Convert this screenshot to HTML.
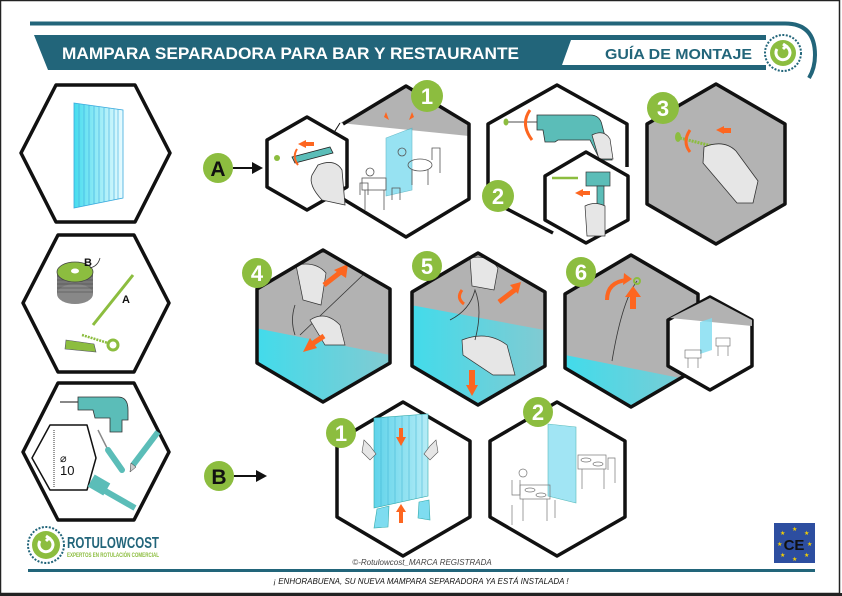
<!DOCTYPE html>
<html><head><meta charset="utf-8"><style>
html,body{margin:0;padding:0;background:#fff}
svg{display:block}
text{font-family:"Liberation Sans",sans-serif}
</style></head><body>
<svg width="842" height="596" viewBox="0 0 842 596" xmlns="http://www.w3.org/2000/svg">
<defs>
<linearGradient id="cy" x1="0" y1="0" x2="1" y2="0"><stop offset="0" stop-color="#3fdcec"/><stop offset="1" stop-color="#86c9d0"/></linearGradient>
<linearGradient id="pan" x1="0" y1="0" x2="1" y2="0"><stop offset="0" stop-color="#46dcee"/><stop offset="1" stop-color="#e9fbff"/></linearGradient>
<linearGradient id="pan2" x1="0" y1="0" x2="1" y2="0"><stop offset="0" stop-color="#5fd3ea"/><stop offset="1" stop-color="#b5ecf6"/></linearGradient>
<clipPath id="c4"><polygon points="323,250 390,289 390,363 323,402 257,363 257,289"/></clipPath>
<clipPath id="c5"><polygon points="478,253 545,292 545,366 478,405 412,366 412,292"/></clipPath>
<clipPath id="c6"><polygon points="631,255 698,294 698,368 631,407 565,368 565,294"/></clipPath>
<clipPath id="c1"><polygon points="406,86 469,124 469,199 406,237 343,199 343,124"/></clipPath>
</defs>
<rect x="0.5" y="0.5" width="839" height="593" fill="#fff" stroke="#222" stroke-width="1.5"/>
<rect x="0" y="593" width="842" height="3" fill="#222"/>

<!-- header -->
<path d="M30,23.5 H785 Q815,23.5 815,55 Q815,68 809,78" fill="none" stroke="#22657a" stroke-width="4"/>
<polygon points="34,35 766,35 766,70 48,70" fill="#22657a"/>
<polygon points="571,40 766,40 766,65 562,65" fill="#fff"/>
<text x="62" y="59" font-size="17" font-weight="bold" fill="#fff" textLength="457" lengthAdjust="spacingAndGlyphs">MAMPARA SEPARADORA PARA BAR Y RESTAURANTE</text>
<text x="605" y="59" font-size="15" font-weight="bold" fill="#22657a" textLength="147" lengthAdjust="spacingAndGlyphs">GUÍA DE MONTAJE</text>
<circle cx="783" cy="53" r="18" fill="#fff" stroke="#22657a" stroke-width="2" stroke-dasharray="2 1.5"/>
<circle cx="783" cy="53" r="13" fill="#8cbd3f"/>
<path d="M777,49 a7,7 0 1 0 8,-3 M783,44 l3,2 -3,3" fill="none" stroke="#fff" stroke-width="3"/>

<!-- left column -->
<g fill="#fff" stroke="#111" stroke-width="3.5" stroke-linejoin="round">
<polygon points="21,153 56,85 135,85 170,153 135,222 56,222"/>
<polygon points="23,303 58,235 134,235 169,303 134,372 58,372"/>
<polygon points="23,452 58,383 134,383 169,452 134,520 58,520"/>
</g>
<polygon points="74,103 123,110 123,198 74,208" fill="url(#pan)" stroke="#3aaadd" stroke-width="0.8"/>
<g stroke="#3aaadd" stroke-width="0.6"><line x1="79" y1="104" x2="79" y2="207"/><line x1="84" y1="105" x2="84" y2="206"/><line x1="89" y1="105" x2="89" y2="205"/><line x1="94" y1="106" x2="94" y2="204"/><line x1="99" y1="107" x2="99" y2="203"/><line x1="104" y1="108" x2="104" y2="202"/><line x1="109" y1="108" x2="109" y2="201"/><line x1="114" y1="109" x2="114" y2="200"/><line x1="118" y1="109" x2="118" y2="199"/></g>
<!-- spool -->
<rect x="57" y="272" width="36" height="22" fill="#777"/>
<ellipse cx="75" cy="294" rx="18" ry="10" fill="#888"/>
<g stroke="#444" stroke-width="0.6" fill="none"><line x1="57" y1="276" x2="93" y2="276"/><line x1="57" y1="280" x2="93" y2="280"/><line x1="57" y1="284" x2="93" y2="284"/><line x1="57" y1="288" x2="93" y2="288"/><line x1="57" y1="292" x2="93" y2="292"/></g>
<ellipse cx="75" cy="272" rx="18" ry="10" fill="#8cbd3f" stroke="#444" stroke-width="0.8"/>
<ellipse cx="75" cy="271" rx="4" ry="2.5" fill="#fff"/>
<path d="M90,268 q8,-2 10,-10" fill="none" stroke="#333" stroke-width="0.8"/>
<text x="84" y="266" font-size="11" font-weight="bold" fill="#111">B</text>
<text x="122" y="303" font-size="11" font-weight="bold" fill="#111">A</text>
<line x1="93" y1="325" x2="133" y2="275" stroke="#8cbd3f" stroke-width="3"/>
<polygon points="66,340 94,344 96,352 65,349" fill="#8cbd3f" stroke="#556" stroke-width="0.6"/>
<line x1="82" y1="335" x2="108" y2="343" stroke="#8cbd3f" stroke-width="2.5" stroke-dasharray="2 1"/>
<circle cx="113" cy="345" r="5" fill="none" stroke="#8cbd3f" stroke-width="3"/>
<!-- tools -->
<line x1="60" y1="402" x2="78" y2="402" stroke="#888" stroke-width="2"/>
<path d="M78,397 H118 Q128,397 128,410 V420 H122 L122,432 H110 L110,418 H95 L93,410 H78 Z" fill="#5bbdb8" stroke="#333" stroke-width="0.8"/>
<polygon points="50,425 87,425 96,458 87,490 50,490 32,458" fill="#fff" stroke="#111" stroke-width="1.5" stroke-linejoin="round"/>
<line x1="54" y1="430" x2="54" y2="487" stroke="#999" stroke-width="2" stroke-dasharray="1 1"/>
<text x="60" y="462" font-size="11" fill="#111">⌀</text>
<text x="60" y="475" font-size="13" fill="#111">10</text>
<line x1="98" y1="430" x2="108" y2="450" stroke="#888" stroke-width="1.5"/>
<line x1="108" y1="450" x2="122" y2="470" stroke="#5bbdb8" stroke-width="6" stroke-linecap="round"/>
<line x1="158" y1="432" x2="133" y2="465" stroke="#5bbdb8" stroke-width="6"/>
<polygon points="131,463 136,467 130,472" fill="#ccc" stroke="#333" stroke-width="0.5"/>
<rect x="90" y="478" width="18" height="14" fill="#5bbdb8" transform="rotate(30 99 485)"/>
<line x1="100" y1="488" x2="135" y2="508" stroke="#5bbdb8" stroke-width="6"/>

<!-- A row -->
<circle cx="218" cy="168" r="15" fill="#8cbd3f"/>
<text x="218" y="176" font-size="21" font-weight="bold" fill="#111" text-anchor="middle">A</text>
<line x1="233" y1="168" x2="256" y2="168" stroke="#111" stroke-width="2"/>
<polygon points="263,168 252,162 252,174" fill="#111"/>
<!-- hex 1 big -->
<polygon points="406,86 469,124 469,135 343,123 343,124" fill="#b3b3b3" clip-path="url(#c1)"/>
<polygon points="340,123 406,86 469,124 469,136" fill="#b3b3b3"/>
<polyline points="343,124 406,86 469,124 469,199 406,237 343,199" fill="none" stroke="#111" stroke-width="3.5" stroke-linejoin="round"/>
<line x1="340" y1="123" x2="323" y2="150" stroke="#111" stroke-width="1"/>
<polygon points="386,138 412,128 412,190 386,196" fill="#7edcf0" opacity="0.8" stroke="#4ab" stroke-width="0.6"/>
<g fill="none" stroke="#555" stroke-width="0.8">
<rect x="362" y="178" width="24" height="12"/><line x1="365" y1="190" x2="365" y2="210"/><line x1="384" y1="190" x2="384" y2="210"/>
<path d="M360,195 v-12 h8 v12 M392,200 v-12 h8 v12"/>
<ellipse cx="420" cy="165" rx="12" ry="6"/><path d="M412,170 v15 M428,170 v15 M432,160 v-12 h8 v25"/>
<circle cx="402" cy="152" r="4"/><circle cx="370" cy="172" r="4"/>
</g>
<g fill="#fd6620"><polygon points="389,120 384,117 386,112"/><polygon points="409,120 414,117 412,112"/></g>
<circle cx="427" cy="96" r="16" fill="#8cbd3f"/><text x="427" y="104" font-size="22" font-weight="bold" fill="#fff" text-anchor="middle">1</text>
<!-- small hex A -->
<polygon points="307,117 347,140 347,187 307,210 267,187 267,140" fill="#fff" stroke="#111" stroke-width="3.5" stroke-linejoin="round"/>
<path d="M318,165 Q335,158 342,170 L345,205 L322,200 Q308,185 312,175 Z" fill="#e6e6e6" stroke="#333" stroke-width="0.8"/>
<polygon points="292,157 330,147 333,153 295,163" fill="#5bbdb8" stroke="#222" stroke-width="0.8"/>
<circle cx="277" cy="158" r="3" fill="#8cbd3f"/>
<path d="M297,149 q-5,8 1,16" fill="none" stroke="#fd6620" stroke-width="2"/>
<polygon points="298,144 306,140 306,148" fill="#fd6620"/><rect x="306" y="142" width="8" height="4" fill="#fd6620"/>

<!-- hex 2 -->
<polyline points="553,233 488,199 488,124 557,85 627,124 627,167" fill="none" stroke="#111" stroke-width="3.5" stroke-linejoin="round"/>
<line x1="505" y1="122" x2="540" y2="122" stroke="#888" stroke-width="1.5"/>
<ellipse cx="506" cy="122" rx="2.5" ry="3.5" fill="#8cbd3f"/>
<path d="M537,115 H590 Q600,115 602,125 L608,148 L612,160 L600,160 L590,140 L558,140 L555,142 L545,142 L543,130 L537,130 Z" fill="#5bbdb8" stroke="#333" stroke-width="0.8"/>
<path d="M592,135 q12,-6 18,4 l3,20 -14,0 z" fill="#e6e6e6" stroke="#333" stroke-width="0.7"/>
<path d="M530,110 q-10,14 2,30" fill="none" stroke="#fd6620" stroke-width="3"/>
<polygon points="586,152 628,176 628,220 586,243 545,220 545,176" fill="#fff" stroke="#111" stroke-width="3.5" stroke-linejoin="round"/>
<line x1="552" y1="178" x2="578" y2="178" stroke="#8cbd3f" stroke-width="2.5"/>
<rect x="586" y="172" width="24" height="14" fill="#5bbdb8" stroke="#333" stroke-width="0.7"/>
<rect x="597" y="186" width="7" height="40" fill="#5bbdb8" stroke="#333" stroke-width="0.7"/>
<path d="M585,206 q10,-5 20,0 l0,30 -18,0 z" fill="#e6e6e6" stroke="#333" stroke-width="0.7"/>
<polygon points="575,193 583,189 583,197" fill="#fd6620"/><rect x="583" y="191" width="7" height="4" fill="#fd6620"/>
<circle cx="498" cy="196" r="16" fill="#8cbd3f"/><text x="498" y="204" font-size="22" font-weight="bold" fill="#fff" text-anchor="middle">2</text>

<!-- hex 3 -->
<polygon points="716,84 785,124 785,204 716,244 647,204 647,124" fill="#b3b3b3" stroke="#111" stroke-width="3.5" stroke-linejoin="round"/>
<line x1="680" y1="138" x2="712" y2="146" stroke="#8cbd3f" stroke-width="3" stroke-dasharray="2 1"/>
<ellipse cx="678" cy="137" rx="3" ry="5" fill="#8cbd3f"/>
<path d="M704,147 q20,-8 32,4 l22,30 -5,22 -16,0 -34,-40 z" fill="#e6e6e6" stroke="#333" stroke-width="0.8"/>
<path d="M690,130 q-8,12 0,22" fill="none" stroke="#fd6620" stroke-width="3"/>
<polygon points="716,130 724,126 724,134" fill="#fd6620"/><rect x="724" y="128" width="7" height="5" fill="#fd6620"/>
<circle cx="663" cy="108" r="16" fill="#8cbd3f"/><text x="663" y="116" font-size="22" font-weight="bold" fill="#fff" text-anchor="middle">3</text>

<!-- row 2 -->
<g clip-path="url(#c4)"><rect x="250" y="245" width="150" height="170" fill="#b2b2b2"/><polygon points="250,327 400,357 400,410 250,410" fill="url(#cy)"/></g>
<line x1="300" y1="335" x2="365" y2="273" stroke="#333" stroke-width="0.8"/>
<path d="M296,265 q20,-4 30,8 l-5,32 -18,-5 z" fill="#e6e6e6" stroke="#333" stroke-width="0.7"/>
<path d="M310,320 q15,-10 30,5 l5,20 -20,0 z" fill="#e6e6e6" stroke="#333" stroke-width="0.7"/>
<path d="M295,305 q-5,15 0,30" fill="none" stroke="#333" stroke-width="0.8"/>
<polygon points="334,270 348,264 346,278" fill="#fd6620"/><line x1="324" y1="285" x2="342" y2="271" stroke="#fd6620" stroke-width="5"/>
<polygon points="303,352 317,348 310,338" fill="#fd6620"/><line x1="309" y1="346" x2="324" y2="336" stroke="#fd6620" stroke-width="5"/>
<polygon points="323,250 390,289 390,363 323,402 257,363 257,289" fill="none" stroke="#111" stroke-width="3.5" stroke-linejoin="round"/>
<circle cx="257" cy="273" r="15" fill="#8cbd3f"/><text x="257" y="281" font-size="22" font-weight="bold" fill="#fff" text-anchor="middle">4</text>

<g clip-path="url(#c5)"><rect x="405" y="248" width="150" height="170" fill="#b2b2b2"/><polygon points="405,304 555,332 555,410 405,410" fill="url(#cy)"/></g>
<path d="M470,258 q18,-4 28,10 l-4,22 -22,-4 z" fill="#e6e6e6" stroke="#333" stroke-width="0.7"/>
<path d="M462,340 q25,-10 45,5 l8,30 -22,0 -30,-20 z" fill="#e6e6e6" stroke="#333" stroke-width="0.7"/>
<path d="M450,320 q20,-10 25,-30 q8,20 0,50" fill="none" stroke="#333" stroke-width="0.8"/>
<polygon points="510,285 521,282 518,294" fill="#fd6620"/><line x1="499" y1="302" x2="516" y2="289" stroke="#fd6620" stroke-width="5"/>
<polygon points="466,385 478,385 472,396" fill="#fd6620"/><rect x="469" y="370" width="6" height="16" fill="#fd6620"/>
<path d="M462,290 q-6,8 2,14" fill="none" stroke="#fd6620" stroke-width="3"/>
<polygon points="478,253 545,292 545,366 478,405 412,366 412,292" fill="none" stroke="#111" stroke-width="3.5" stroke-linejoin="round"/>
<circle cx="427" cy="266" r="15" fill="#8cbd3f"/><text x="427" y="274" font-size="22" font-weight="bold" fill="#fff" text-anchor="middle">5</text>

<g clip-path="url(#c6)"><rect x="560" y="250" width="150" height="170" fill="#b2b2b2"/><polygon points="560,354 710,384 710,415 560,415" fill="url(#cy)"/></g>
<path d="M637,281 q-15,20 -25,80" fill="none" stroke="#333" stroke-width="0.8"/>
<circle cx="637" cy="281" r="3" fill="none" stroke="#8cbd3f" stroke-width="2"/>
<path d="M607,300 q0,-18 20,-20" fill="none" stroke="#fd6620" stroke-width="4"/>
<polygon points="624,273 632,279 623,285" fill="#fd6620"/>
<polygon points="625,297 633,286 641,297" fill="#fd6620"/><rect x="630" y="296" width="6" height="13" fill="#fd6620"/>
<polygon points="631,255 698,294 698,368 631,407 565,368 565,294" fill="none" stroke="#111" stroke-width="3.5" stroke-linejoin="round"/>
<circle cx="581" cy="272" r="15" fill="#8cbd3f"/><text x="581" y="280" font-size="22" font-weight="bold" fill="#fff" text-anchor="middle">6</text>
<polygon points="710,297 752,320 752,366 710,390 668,366 668,320" fill="#fff" stroke="#111" stroke-width="3.5" stroke-linejoin="round"/>
<polygon points="670,318 710,298 752,320 752,326" fill="#b2b2b2"/>
<polygon points="700,322 712,318 712,350 700,354" fill="#7edcf0" opacity="0.8"/>
<g fill="none" stroke="#666" stroke-width="0.6"><rect x="685" y="350" width="16" height="8"/><rect x="716" y="338" width="14" height="8"/><path d="M688,358 v10 M698,358 v10 M718,346 v10 M728,346 v10"/></g>

<!-- B row -->
<circle cx="219" cy="476" r="15" fill="#8cbd3f"/>
<text x="219" y="484" font-size="21" font-weight="bold" fill="#111" text-anchor="middle">B</text>
<line x1="234" y1="476" x2="258" y2="476" stroke="#111" stroke-width="2"/>
<polygon points="267,476 256,470 256,482" fill="#111"/>
<polygon points="403,402 470,441 470,517 403,556 337,517 337,441" fill="#fff" stroke="#111" stroke-width="3.5" stroke-linejoin="round"/>
<polygon points="374,418 428,414 428,496 374,508" fill="url(#pan2)" stroke="#3aa" stroke-width="0.6"/>
<g stroke="#3ab0d0" stroke-width="0.5"><line x1="381" y1="418" x2="381" y2="507"/><line x1="388" y1="417" x2="388" y2="505"/><line x1="395" y1="417" x2="395" y2="504"/><line x1="402" y1="416" x2="402" y2="502"/><line x1="409" y1="416" x2="409" y2="500"/><line x1="416" y1="415" x2="416" y2="499"/><line x1="422" y1="415" x2="422" y2="498"/></g>
<polygon points="377,509 389,506 388,527 374,528" fill="#7edcf0" stroke="#3aa" stroke-width="0.6"/>
<polygon points="419,502 429,500 430,520 418,518" fill="#7edcf0" stroke="#3aa" stroke-width="0.6"/>
<path d="M364,440 l6,6 6,8 -6,6 -8,-8 z" fill="#e6e6e6" stroke="#555" stroke-width="0.6"/>
<path d="M436,440 l-6,6 -6,8 6,6 8,-8 z" fill="#e6e6e6" stroke="#555" stroke-width="0.6"/>
<polygon points="396,437 406,437 401,446" fill="#fd6620"/><rect x="399" y="428" width="4" height="10" fill="#fd6620"/>
<polygon points="396,512 406,512 401,504" fill="#fd6620"/><rect x="399" y="512" width="4" height="11" fill="#fd6620"/>
<circle cx="341" cy="433" r="15" fill="#8cbd3f"/><text x="341" y="441" font-size="22" font-weight="bold" fill="#fff" text-anchor="middle">1</text>

<polygon points="557,402 625,441 625,517 557,556 490,517 490,441" fill="#fff" stroke="#111" stroke-width="3.5" stroke-linejoin="round"/>
<polygon points="548,424 576,427 576,503 548,496" fill="#8adff2" opacity="0.8" stroke="#3aa" stroke-width="0.6"/>
<g fill="none" stroke="#777" stroke-width="0.7">
<rect x="520" y="485" width="30" height="14"/><path d="M523,499 v22 M547,499 v22 M512,480 v15 h8 v-15 M512,505 v20 M555,500 v18"/>
<ellipse cx="530" cy="490" rx="5" ry="2"/><ellipse cx="541" cy="495" rx="5" ry="2"/>
<rect x="578" y="455" width="28" height="14"/><ellipse cx="586" cy="460" rx="5" ry="2"/><ellipse cx="598" cy="464" rx="5" ry="2"/>
<path d="M582,469 v20 M604,469 v20 M608,470 v-12 h7 v25"/><circle cx="523" cy="473" r="4"/>
</g>
<circle cx="538" cy="412" r="15" fill="#8cbd3f"/><text x="538" y="420" font-size="22" font-weight="bold" fill="#fff" text-anchor="middle">2</text>

<!-- footer -->
<circle cx="46" cy="545" r="18" fill="#fff" stroke="#22657a" stroke-width="2" stroke-dasharray="2 1.5"/>
<circle cx="46" cy="545" r="14" fill="#8cbd3f"/>
<path d="M40,541 a7,7 0 1 0 8,-3 M46,536 l3,2 -3,3" fill="none" stroke="#fff" stroke-width="3"/>
<text x="67" y="548" font-size="16" font-weight="bold" fill="#22657a" textLength="92" lengthAdjust="spacingAndGlyphs">ROTULOWCOST</text>
<text x="67" y="557" font-size="6" font-weight="bold" fill="#8cbd3f" textLength="92" lengthAdjust="spacingAndGlyphs">EXPERTOS EN ROTULACIÓN COMERCIAL</text>
<text x="422" y="565" font-size="8" font-style="italic" fill="#444" text-anchor="middle">©-Rotulowcost_MARCA REGISTRADA</text>
<rect x="28" y="569" width="787" height="3" fill="#22657a"/>
<text x="421" y="584" font-size="8" font-style="italic" fill="#111" text-anchor="middle">¡ ENHORABUENA, SU NUEVA MAMPARA SEPARADORA YA ESTÁ INSTALADA !</text>
<rect x="774" y="523" width="41" height="40" fill="#2d4ea0"/>
<g fill="#f5d000" font-size="6"><text x="792" y="531">★</text><text x="792" y="561">★</text><text x="777" y="546">★</text><text x="807" y="546">★</text><text x="780" y="535">★</text><text x="804" y="535">★</text><text x="780" y="557">★</text><text x="804" y="557">★</text></g>
<text x="794" y="550" font-size="15" font-weight="bold" fill="#111" text-anchor="middle">CE</text>
</svg>
</body></html>
